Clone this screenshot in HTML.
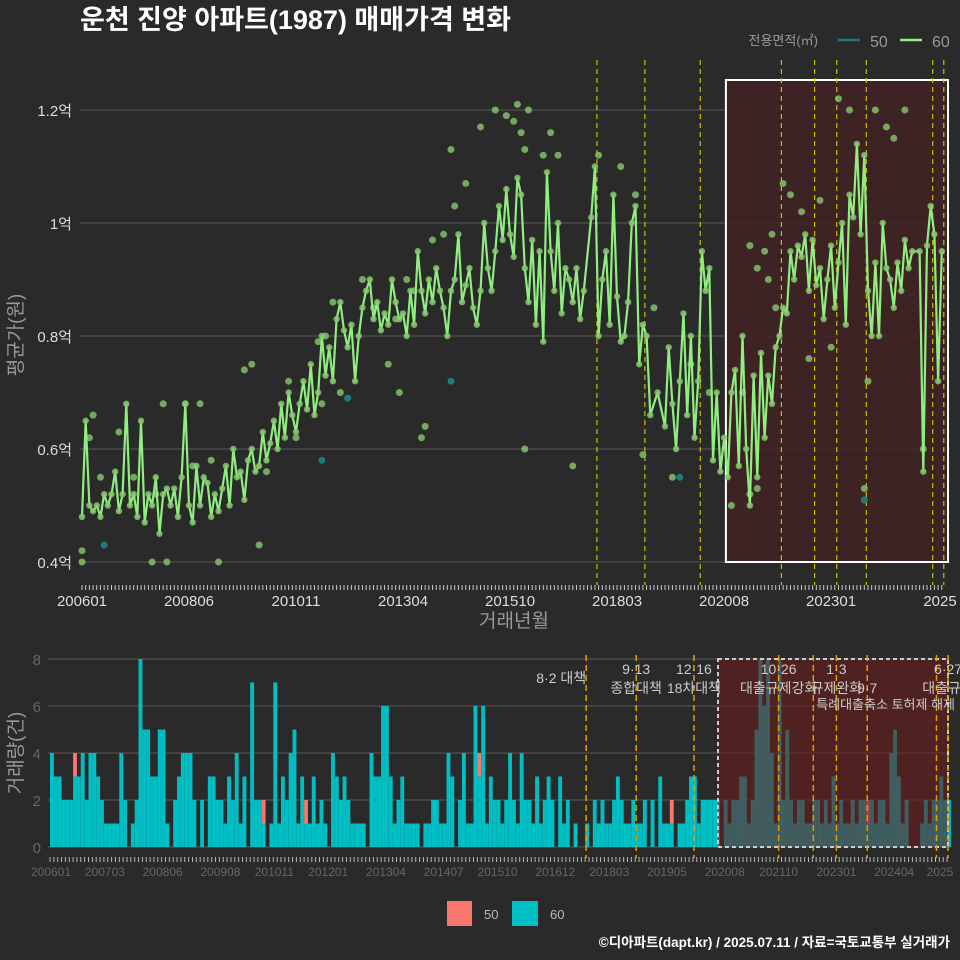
<!DOCTYPE html>
<html><head><meta charset="utf-8">
<style>
body{margin:0;background:#2a2a2a;}
svg{display:block;font-family:"Liberation Sans","Noto Sans CJK KR",sans-serif;}
</style></head>
<body>
<svg id="chart" width="960" height="960" viewBox="0 0 960 960" xmlns="http://www.w3.org/2000/svg">
<rect width="960" height="960" fill="#2a2a2a"/>
<text x="80" y="29" fill="#ffffff" font-size="27" font-weight="bold">운천 진양 아파트(1987) 매매가격 변화</text>
<g font-size="13" fill="#999">
<text x="818" y="45" text-anchor="end">전용면적(㎡)</text>
<line x1="838" y1="40" x2="860" y2="40" stroke="#1f7a80" stroke-width="2.5"/>
<text x="870" y="47" font-size="16">50</text>
<line x1="900" y1="40" x2="922" y2="40" stroke="#90ee80" stroke-width="2.5"/>
<text x="932" y="47" font-size="16">60</text>
</g>
<g id="topPanel"></g>
<g id="botPanel"></g>
<text x="514" y="627" fill="#999" font-size="19" text-anchor="middle">거래년월</text>
<text fill="#999" font-size="19" text-anchor="middle" transform="translate(22,335) rotate(-90)">평균가(원)</text>
<text fill="#999" font-size="19" text-anchor="middle" transform="translate(22,753) rotate(-90)">거래량(건)</text>
<g>
<rect x="447" y="901" width="25" height="25" fill="#f8766d"/>
<text x="484" y="919" fill="#bbb" font-size="13">50</text>
<rect x="512" y="901" width="26" height="25" fill="#00bfc4"/>
<text x="550" y="919" fill="#bbb" font-size="13">60</text>
</g>
<text x="950" y="947" fill="#ffffff" font-size="13.5" font-weight="bold" text-anchor="end">©디아파트(dapt.kr) / 2025.07.11 / 자료=국토교통부 실거래가</text>
</svg>
<script>
// ---- data ----
const avgPrice60 = [.48,.65,.50,.49,.50,.48,.52,.50,.52,.56,.49,.52,
.68,.50,.52,.48,.65,.47,.52,.50,.55,.45,.52,.53,
.50,.53,.48,.55,.68,.50,.47,.57,.50,.55,.54,.48,
.52,.49,.53,.57,.50,.60,.55,.56,.51,.58,.60,.56,
.57,.63,.58,.61,.65,.60,.68,.62,.70,.66,.63,.68,
.72,.67,.75,.66,.70,.80,.73,.78,.72,.83,.86,.81,
.78,.82,.72,.80,.85,.88,.90,.83,.86,.81,.84,.82,
.90,.86,.83,.84,.80,.88,.82,.95,.88,.84,.90,.86,
.92,.88,.85,.80,.88,.90,.98,.86,.89,.92,.85,.82,
.88,1.0,.92,.88,.95,1.03,.97,1.06,.98,.94,1.08,1.05,
.92,.86,.97,.82,.95,.79,1.09,.95,.88,1.0,.84,.92,
.90,.86,.92,.83,.88,null,1.01,1.10,.80,.90,.95,.82,
1.05,.87,.79,.80,.86,1.0,1.03,.75,.82,.80,.66,null,
.70,null,.64,.78,.68,.60,.72,.84,.66,.80,.62,.72,
.95,.88,.92,.58,.70,.56,.62,.55,.70,.74,.57,.80,
.60,.50,.73,.55,.77,.62,.73,.68,.78,.80,.85,.84,
.95,.90,.96,.94,.98,.88,.97,.89,.92,.83,.90,.96,
.85,.93,1.0,.82,1.05,1.01,1.14,.98,1.12,.88,.80,.93,
.80,1.0,.92,.90,.85,.93,.88,.97,.92,.95,null,.95,
.56,.96,1.03,.98,.72,.95];
const extraPoints60 = [[108,1.17],[112,1.2],[115,1.19],[117,1.18],[118,1.21],[119,1.16],[120,1.13],[121,1.2],[125,1.12],[127,1.16],[129,1.12],[104,1.07],[100,1.13],[101,1.03],[98,0.98],[95,0.97],[90,0.88],[92,0.62],[93,0.64],[83,0.75],[85,0.83],[86,0.7],[65,0.68],[66,0.8],[68,0.86],[64,0.79],
[0,0.42],[0,0.40],[19,0.40],[23,0.40],[37,0.40],[48,0.43],[30,0.57],[50,0.56],[120,0.60],[133,0.57],[152,0.59],[160,0.55],[176,0.5],[181,0.52],[183,0.53],[212,0.53],[228,0.6],
[2,0.62],[3,0.66],[5,0.55],[10,0.63],[14,0.55],[20,0.52],[22,0.68],[28,0.68],[32,0.68],[35,0.58],[44,0.74],[46,0.75],[56,0.72],[58,0.62],[70,0.7],[76,0.9],[79,0.85],[88,0.90],[140,1.12],[146,1.1],[150,1.05],[155,0.85],[165,0.75],[170,0.7],[185,0.95],[187,0.98],[190,1.07],[192,1.05],[195,1.02],[200,1.04],[205,1.22],[208,1.2],[215,1.20],[218,1.17],[220,1.15],[223,1.20],[197,0.76],[203,0.78],[213,0.72],[181,0.96],[183,0.92],[186,0.9],[179,0.7],[188,0.85]];
const points50 = [[6,0.43],[65,0.58],[100,0.72],[162,0.55],[212,0.51],[72,0.69]];
const count60 = [4,3,3,2,2,2,3,3,4,2,4,4,
3,2,1,1,1,1,4,2,0,1,2,8,
5,5,3,3,5,5,1,0,2,3,4,4,
4,2,0,2,0,3,3,2,2,1,3,2,
4,1,3,0,7,2,2,1,0,1,7,1,
3,2,4,5,1,3,1,1,3,1,2,1,
0,4,3,2,3,2,1,1,1,1,0,4,
3,3,6,6,3,1,2,3,1,1,1,1,
0,1,1,2,2,1,1,4,3,0,2,4,
1,1,6,3,6,1,3,2,2,1,2,4,
2,1,4,2,2,1,3,1,2,3,2,0,
3,1,2,0,1,0,0,1,0,2,1,2,
1,1,2,3,2,1,1,2,1,1,2,0,
2,0,3,1,1,1,0,1,1,2,3,3,
1,2,2,2,2,2,0,2,1,2,2,3,
3,1,2,5,8,6,8,4,1,8,2,5,
2,1,2,2,1,1,2,2,1,2,1,3,
1,2,1,1,2,1,2,2,1,2,1,2,
2,1,4,5,3,1,2,0,0,0,1,2,
1,2,2,3,2,2];
const count50Months = [6,55,66,111,161,212];
const count50Values = [1,1,1,1,1,1];
const priceTicks = [0.4,0.6,0.8,1.0,1.2];
const priceTickLabels = ["0.4억","0.6억","0.8억","1억","1.2억"];
const volTicks = [0,2,4,6,8];
const topXLabelMonths = [0,29,58,87,116,145,174,203,233];
const topXLabels = ["200601","200806","201011","201304","201510","201803","202008","202301","2025"];
const botXLabelMonths = [0,14,29,44,58,72,87,102,116,131,145,160,175,189,204,219,233];
const botXLabels = ["200601","200703","200806","200908","201011","201201","201304","201407","201510","201612","201803","201905","202008","202110","202301","202404","2025"];
const policyMonths = [139,152,167,189,198,204,212,230,233];
const policyTop = ["8·2 대책","9·13","12·16","10·26","","1·3","","","6·27"];
const policyBottom = ["","종합대책","18차대책","대출규제강화","","규제완화","9·7","","대출규제"];

// ---- scales ----
const NS="http://www.w3.org/2000/svg";
const xT = m => 82 + m*3.69;
const yT = v => 562 - (v-0.4)/0.8*452;
const xB = m => 50 + m*3.85;
const yB = c => 847 - c*23.5;
function mk(tag, attrs, parent){const e=document.createElementNS(NS,tag);for(const k in attrs)e.setAttribute(k,attrs[k]);parent.appendChild(e);return e;}
const topG=document.getElementById('topPanel'), botG=document.getElementById('botPanel');

priceTicks.forEach((v,i)=>{
  const g=mk('line',{x1:80,x2:950,y1:yT(v),y2:yT(v),stroke:'#5a5a5a','stroke-width':1},topG);
  
  
  const t=mk('text',{x:72,y:yT(v)+6,fill:'#ddd','font-size':15,'text-anchor':'end'},topG);
  t.textContent=priceTickLabels[i];
  
  
});
const sh=mk('rect',{x:xT(174.5),y:80,width:948-xT(174.5),height:482,fill:'#3f2224','fill-opacity':0.9,stroke:'#fff','stroke-width':2},topG);


policyMonths.forEach(m=>{
  const l=mk('line',{x1:xT(m)+2,x2:xT(m)+2,y1:60,y2:585,stroke:'#c8c000','stroke-width':1.2,'stroke-dasharray':'5,4'},topG);
  
  
});
for(let m=0;m<=233;m++){
  const l=mk('line',{x1:xT(m),x2:xT(m),y1:585,y2:590,stroke:'#ccc','stroke-width':1},topG);
  
  
}
topXLabelMonths.forEach((m,i)=>{
  const t=mk('text',{x:Math.min(xT(m),940),y:606,fill:'#ddd','font-size':15,'text-anchor':'middle'},topG);
  t.textContent=topXLabels[i];
  
  
});
extraPoints60.forEach(p=>{
  const c=mk('circle',{cx:xT(p[0]),cy:yT(p[1]),r:3.5,fill:'#86c96f','fill-opacity':0.8},topG);
  
  
});
points50.forEach(p=>{
  const c=mk('circle',{cx:xT(p[0]),cy:yT(p[1]),r:3.5,fill:'#1f7a80'},topG);
  
  
});
let d='';let pen=false;
avgPrice60.forEach((v,m)=>{ if(v==null)return; d+=(pen?'L':'M')+xT(m).toFixed(1)+','+yT(v).toFixed(1); pen=true;});
const ln=mk('path',{d:d,fill:'none',stroke:'#90ee80','stroke-width':2.2,'stroke-linejoin':'round'},topG);


avgPrice60.forEach((v,m)=>{ if(v==null)return;
  const c=mk('circle',{cx:xT(m),cy:yT(v),r:3.2,fill:'#86c96f','fill-opacity':0.85},topG);
  
  
});

volTicks.forEach(v=>{
  const g=mk('line',{x1:48,x2:950,y1:yB(v),y2:yB(v),stroke:'#5a5a5a','stroke-width':1},botG);
  
  
  const t=mk('text',{x:41,y:yB(v)+6,fill:'#666','font-size':15,'text-anchor':'end'},botG);
  t.textContent=v;
  
  
});
count60.forEach((c,m)=>{
  if(!c)return;
  const b=mk('rect',{x:xB(m),y:yB(c),width:3.85,height:c*23.5,fill:'#00bfc4'},botG);
  
  
});
count50Months.forEach((m,i)=>{
  const base=count60[m]||0;
  const b=mk('rect',{x:xB(m),y:yB(base+count50Values[i]),width:3.85,height:count50Values[i]*23.5,fill:'#f8766d'},botG);
  
  
});
const sb=mk('rect',{x:718,y:659,width:230,height:188,fill:'#6a1c1c','fill-opacity':0.6,stroke:'#ccc','stroke-width':2,'stroke-dasharray':'4,3'},botG);


policyMonths.forEach((m,i)=>{
  const x=xB(m)+1;
  const l=mk('line',{x1:x,x2:x,y1:655,y2:858,stroke:'#e0a000','stroke-width':1.5,'stroke-dasharray':'6,4'},botG);
  
  
  if(policyTop[i]){
    const t=mk('text',{x:x,y:i===0?683:674,fill:'#ccc','font-size':14,'text-anchor':i===0?'end':'middle'},botG);
    t.textContent=policyTop[i];
    
    
  }
  if(policyBottom[i]){
    const t=mk('text',{x:x,y:693,fill:'#ccc','font-size':14,'text-anchor':'middle'},botG);
    t.textContent=policyBottom[i];
    
    
  }
});
const t2=mk('text',{x:955,y:709,fill:'#ccc','font-size':13,'text-anchor':'end'},botG);
t2.textContent='특례대출축소 토허제 해제';


for(let m=0;m<=233;m++){
  const l=mk('line',{x1:xB(m),x2:xB(m),y1:857,y2:862,stroke:'#bbb','stroke-width':1},botG);
  
  
}
botXLabelMonths.forEach((m,i)=>{
  const t=mk('text',{x:Math.min(xB(m)+1,940),y:876,fill:'#666','font-size':12,'text-anchor':'middle'},botG);
  t.textContent=botXLabels[i];
  
  
});
</script>
</body></html>
